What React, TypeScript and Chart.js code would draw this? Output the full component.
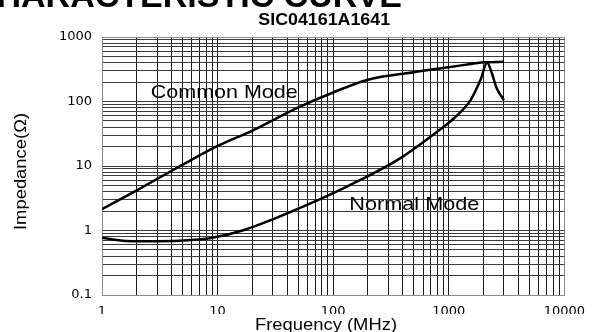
import React, { useEffect, useRef } from 'react';
import { Chart, registerables } from 'chart.js';

Chart.register(...registerables);

// ---- data ----
const xDecades = [1, 10, 100, 1000, 10000];
const xTickLabels = ['1', '10', '100', '1000', '10000'];
const yDecades = [0.1, 1, 10, 100, 1000];
const yTickLabels = ['0.1', '1', '10', '100', '1000'];

const cmFreq = [1, 2, 5, 10, 20, 50, 100, 200, 500, 1000, 1500, 2000, 3000];
const cmImp = [2.15, 4.2, 10.5, 20.5, 35.5, 81, 138, 218, 285, 340, 378, 406, 412];

const nmFreq = [1, 1.6, 3, 6, 9, 17, 30, 72, 138, 370, 705, 1110, 1545, 1880, 2150, 2360, 2600, 3000];
const nmImp = [0.77, 0.69, 0.68, 0.71, 0.77, 1.02, 1.49, 2.9, 5.0, 12.8, 29, 55, 105, 215, 400, 274, 160, 105];

const curveLabels = ['Common Mode', 'Normal Mode'];
const curveLabelFreq = [2.64, 138];
const curveLabelImp = [112, 2.08];

const chartTitle = 'SIC04161A1641';
const headerText = 'CHARACTERISTIC CURVE';
const xTitle = 'Frequency (MHz)';
const yTitle = 'Impedance(Ω)';

// ---- styles ----
const W = 594;
const H = 332;
const curveLabelWidths = [147, 130];
const SANS = '"Liberation Sans", Arial, sans-serif';

function gridValues(decades: number[]) {
  const out: number[] = [];
  for (let i = 0; i < decades.length - 1; i++) {
    for (let m = 1; m < 10; m++) out.push(+(decades[i] * m).toPrecision(6));
  }
  out.push(decades[decades.length - 1]);
  return out;
}

function labelFor(v: number, decades: number[], labels: string[]) {
  for (let i = 0; i < decades.length; i++) {
    if (Math.abs(v - decades[i]) < decades[i] * 1e-6) return labels[i];
  }
  return '';
}

function drawText(
  ctx: CanvasRenderingContext2D,
  text: string,
  x: number,
  y: number,
  font: string,
  width: number | null,
  align: CanvasTextAlign,
  rotate = 0
) {
  ctx.save();
  ctx.font = font;
  ctx.textAlign = align;
  ctx.textBaseline = 'alphabetic';
  ctx.fillStyle = '#000';
  const w = ctx.measureText(text).width;
  const s = width ? width / w : 1;
  ctx.translate(x, y);
  if (rotate) ctx.rotate(rotate);
  ctx.scale(s, 1);
  ctx.fillText(text, 0, 0);
  ctx.restore();
}

const textPlugin = {
  id: 'texts',
  afterDraw(chart: any) {
    const ctx: CanvasRenderingContext2D = chart.ctx;
    const xs = chart.scales.x;
    const ys = chart.scales.y;
    ctx.save();
    ctx.fillStyle = '#fff';
    ctx.fillRect(0, 314, chart.width, chart.height - 314);
    ctx.restore();

    drawText(ctx, headerText, 402, 6.5, `bold 34px ${SANS}`, null, 'right');
    drawText(ctx, chartTitle, 324.2, 25, `bold 16px ${SANS}`, 131.7, 'center');
    drawText(ctx, xTitle, 326, 329.5, `16px ${SANS}`, 142, 'center');
    drawText(ctx, yTitle, 25.5, 171.5, `16.5px ${SANS}`, 117, 'center', -Math.PI / 2);

    curveLabels.forEach((t, i) => {
      const px = xs.getPixelForValue(curveLabelFreq[i]);
      const py = ys.getPixelForValue(curveLabelImp[i]);
      drawText(ctx, t, px, py, `18.5px ${SANS}`, curveLabelWidths[i], 'left');
    });
  },
};

const xGrid = gridValues(xDecades);
const yGrid = gridValues(yDecades);

export default function App() {
  const ref = useRef<HTMLCanvasElement | null>(null);

  useEffect(() => {
    if (!ref.current) return;
    const chart = new Chart(ref.current, {
      type: 'line',
      data: {
        datasets: [
          {
            label: 'Common Mode',
            data: cmFreq.map((f, i) => ({ x: f, y: cmImp[i] })),
            borderColor: '#000',
            borderWidth: 2.5,
            pointRadius: 0,
            cubicInterpolationMode: 'monotone',
            fill: false,
          },
          {
            label: 'Normal Mode',
            data: nmFreq.map((f, i) => ({ x: f, y: nmImp[i] })),
            borderColor: '#000',
            borderWidth: 2.5,
            pointRadius: 0,
            cubicInterpolationMode: 'monotone',
            fill: false,
          },
        ],
      },
      options: {
        animation: false,
        responsive: false,
        devicePixelRatio: 1,
        layout: { padding: { left: 0, right: 22, top: 37, bottom: 0 } },
        plugins: {
          legend: { display: false },
          tooltip: { enabled: false },
          title: { display: false },
        },
        scales: {
          x: {
            type: 'logarithmic',
            min: 1,
            max: 10000,
            afterBuildTicks: (s: any) => {
              s.ticks = xGrid.map((v) => ({ value: v }));
            },
            afterFit: (s: any) => {
              s.height = 37;
            },
            ticks: {
              autoSkip: false,
              maxRotation: 0,
              minRotation: 0,
              padding: 9,
              color: '#000',
              font: { family: 'DejaVu Sans', size: 13 },
              callback: (v: any) => labelFor(Number(v), xDecades, xTickLabels),
            },
            grid: {
              drawTicks: false,
              lineWidth: 1,
              color: (c: any) =>
                c.index === xGrid.length - 1 || c.index === 0 ? '#8a8a8a' : '#1a1a1a',
            },
            border: { display: true, color: '#8a8a8a', width: 1 },
          },
          y: {
            type: 'logarithmic',
            min: 0.1,
            max: 1000,
            afterBuildTicks: (s: any) => {
              s.ticks = yGrid.map((v) => ({ value: v }));
            },
            afterFit: (s: any) => {
              s.width = 102;
            },
            ticks: {
              autoSkip: false,
              padding: 10,
              color: '#000',
              font: { family: 'DejaVu Sans', size: 13 },
              callback: (v: any) => labelFor(Number(v), yDecades, yTickLabels),
            },
            grid: {
              drawTicks: false,
              lineWidth: 1,
              color: (c: any) =>
                c.index === yGrid.length - 1 || c.index === 0 ? '#8a8a8a' : '#3a3a3a',
            },
            border: { display: true, color: '#8a8a8a', width: 1 },
          },
        },
      } as any,
      plugins: [textPlugin],
    });
    return () => chart.destroy();
  }, []);

  return (
    <div style={{ position: 'fixed', left: 0, top: 0, width: W, height: H, background: '#fff' }}>
      <canvas ref={ref} width={W} height={H} style={{ display: 'block', width: W, height: H }} />
    </div>
  );
}
